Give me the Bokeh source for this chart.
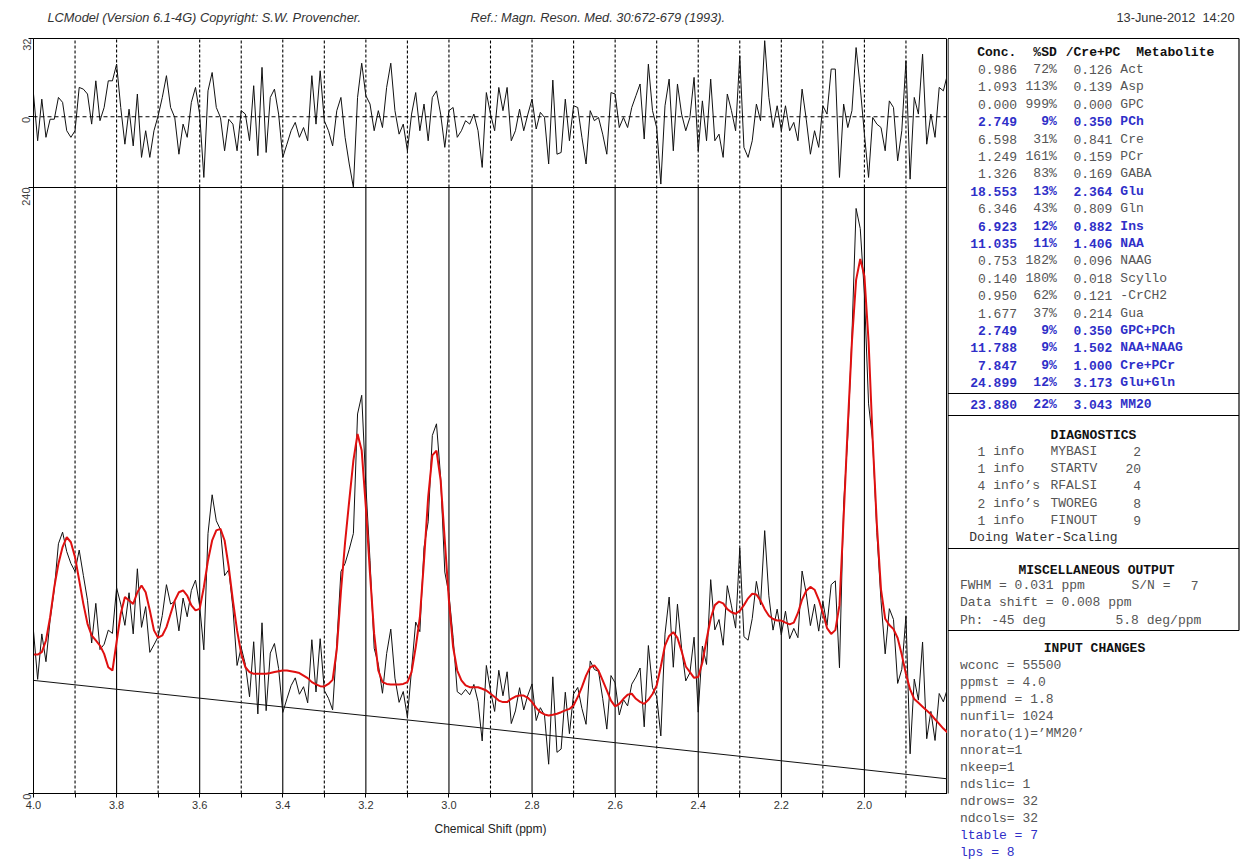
import math
import numpy as np
from bokeh.plotting import figure
from bokeh.models import Range1d, FixedTicker, Span, NumeralTickFormatter
from bokeh.layouts import row, column
from bokeh.embed import file_html
from bokeh.resources import INLINE
from bokeh.core.properties import value

# ---------------- spectrum data (ppm grid 4.00 -> 1.80, step 0.01) ----------------
PPM_START, PPM_END = 4.0, 1.8

fit = [
    55.0, 55.0, 56.0, 60.6, 69.8, 81.7, 91.0, 97.6, 101.5, 99.5,
    93.6, 84.4, 75.1, 67.2, 62.6, 60.6, 58.6, 55.3, 50.0, 48.7,
    60.0, 71.2, 77.8, 76.4, 75.1, 79.7, 82.4, 79.7, 72.5, 64.6,
    61.7, 62.6, 65.9, 71.2, 76.4, 79.7, 80.4, 78.4, 74.5, 72.5,
    73.1, 81.7, 92.3, 100.2, 104.2, 104.8, 100.2, 89.6, 76.4, 64.6,
    55.3, 50.0, 48.1, 47.4, 47.4, 47.4, 47.4, 47.7, 48.1, 48.4,
    48.7, 48.7, 48.4, 48.1, 47.7, 46.7, 45.7, 44.1, 43.2, 42.5,
    42.4, 43.4, 45.0, 57.0, 80.0, 99.5, 116.0, 131.9, 142.4, 135.8,
    113.4, 87.0, 63.2, 48.7, 44.1, 43.4, 43.2, 43.2, 43.2, 43.4,
    44.1, 48.1, 58.0, 69.8, 92.3, 117.4, 133.9, 135.8, 124.0, 100.2,
    76.4, 58.0, 48.7, 44.8, 42.8, 42.1, 42.1, 42.1, 41.5, 40.8,
    39.5, 38.2, 36.8, 36.2, 36.2, 37.5, 38.4, 38.8, 38.8, 37.9,
    36.2, 33.9, 32.2, 31.3, 30.9, 31.2, 31.6, 32.2, 32.9, 33.5,
    34.9, 38.2, 42.1, 46.7, 50.0, 50.7, 48.7, 44.8, 40.8, 36.8,
    34.5, 35.5, 37.5, 39.1, 39.5, 37.5, 36.3, 35.5, 37.1, 39.4,
    42.8, 50.3, 58.6, 62.4, 63.9, 61.6, 56.4, 50.3, 48.1, 45.8,
    46.1, 51.9, 60.9, 69.3, 74.6, 76.0, 75.3, 73.0, 71.8, 71.2,
    72.3, 74.6, 77.3, 79.1, 78.8, 76.4, 73.0, 70.4, 69.1, 68.5,
    68.5, 67.7, 67.0, 67.7, 71.5, 76.8, 80.3, 81.8, 80.7, 76.8,
    71.5, 65.5, 63.2, 64.7, 74.6, 109.4, 145.7, 179.1, 203.4, 211.7,
    204.9, 179.1, 139.7, 106.4, 80.7, 69.2, 66.7, 65.1, 61.6, 54.9,
    47.3, 41.2, 37.4, 35.9, 34.4, 32.9, 31.4, 29.4, 27.6, 25.7,
    24.2,
]

residual = [
    9.3, -9.8, 7.2, -8.4, -1.0, -1.0, 7.9, 5.9, -5.7, -8.4,
    -5.7, 12.0, 11.3, 9.3, -3.0, 14.7, -1.6, 3.8, 14.7, 14.7,
    21.5, 3.8, -11.2, 3.1, -11.9, 9.3, -16.6, -5.7, -16.6, -5.7,
    0.4, 7.9, 16.8, 3.8, -0.3, -15.3, -3.0, -8.4, 5.9, 12.0,
    1.1, -24.8, 10.6, 18.1, 3.8, -0.3, -13.9, -1.0, -3.0, -13.9,
    2.5, 1.1, -9.8, 12.7, -15.9, 20.2, -14.6, 7.9, 11.3, 1.1,
    -16.6, -11.2, -5.7, -2.3, -8.4, -4.4, -9.8, 16.8, -3.0, 18.8,
    -1.6, -5.7, -11.9, 2.5, 7.9, -8.4, -19.3, -28.9, 7.9, 21.9,
    8.6, 5.2, -5.7, 2.5, -4.4, 12.0, 21.9, 2.5, -7.1, -3.0,
    -13.9, 1.1, 9.9, -5.7, 5.2, -9.8, 7.9, 10.6, 1.1, -12.5,
    2.5, 3.8, -8.4, -5.7, -1.6, -3.0, 1.1, -5.7, -20.7, 9.9,
    1.1, -5.7, 12.0, 2.5, 12.0, -9.8, -5.7, 3.1, -5.7, 1.1,
    7.2, -5.0, 1.8, -0.3, -19.3, 15.0, -15.3, -14.6, 7.2, -9.8,
    4.5, 3.8, -8.4, -19.3, 2.5, -1.6, -0.3, -7.1, -15.3, 9.9,
    9.3, -4.4, -0.3, -4.4, 3.8, 8.6, 13.4, -9.1, 21.5, 2.5,
    -4.4, -27.5, 4.5, 15.4, -13.9, 13.4, 1.1, -5.7, -0.3, 16.1,
    -13.9, 6.5, -9.8, 15.4, -9.8, -7.1, -16.6, 9.3, 2.5, -5.7,
    24.9, -12.5, -16.6, -9.8, 5.2, -1.6, 31.1, 7.9, -4.4, 4.5,
    -5.7, 4.5, -5.7, -2.3, -9.8, 11.3, -1.0, -15.3, -5.7, -12.5,
    4.5, 1.1, 19.5, 19.5, -24.8, 5.2, -4.4, 2.5, 28.3, 12.0,
    -7.1, -24.8, -0.3, -3.0, -4.4, -13.9, 6.5, 3.8, -18.0, -5.7,
    22.9, -25.5, 7.9, 1.1, 25.6, -11.2, 1.1, -8.4, 12.0, 10.6,
    17.4,
]

baseline_ppm = [4.0, 3.5, 3.0, 2.5, 2.0, 1.8]
baseline = [44.8, 36.0, 27.4, 18.3, 9.4, 5.8]

major_ticks = [4.0, 3.8, 3.6, 3.4, 3.2, 3.0, 2.8, 2.6, 2.4, 2.2, 2.0]
minor_ticks = [3.9, 3.7, 3.5, 3.3, 3.1, 2.9, 2.7, 2.5, 2.3, 2.1, 1.9]

# ---------------- results table ----------------
metabolites = ["Act", "Asp", "GPC", "PCh", "Cre", "PCr", "GABA", "Glu", "Gln", "Ins",
               "NAA", "NAAG", "Scyllo", "-CrCH2", "Gua", "GPC+PCh", "NAA+NAAG",
               "Cre+PCr", "Glu+Gln"]
conc = [0.986, 1.093, 0.000, 2.749, 6.598, 1.249, 1.326, 18.553, 6.346, 6.923,
        11.035, 0.753, 0.140, 0.950, 1.677, 2.749, 11.788, 7.847, 24.899]
sd_pct = [72, 113, 999, 9, 31, 161, 83, 13, 43, 12, 11, 182, 180, 62, 37, 9, 9, 9, 12]
ratio = [0.126, 0.139, 0.000, 0.350, 0.841, 0.159, 0.169, 2.364, 0.809, 0.882,
         1.406, 0.096, 0.018, 0.121, 0.214, 0.350, 1.502, 1.000, 3.173]
highlighted = ["PCh", "Glu", "Ins", "NAA", "GPC+PCh", "NAA+NAAG", "Cre+PCr", "Glu+Gln"]
mm_name, mm_conc, mm_sd, mm_ratio = "MM20", 23.880, 22, 3.043

diag_count = [1, 1, 4, 2, 1]
diag_word = ["info", "info", "info\u2019s", "info\u2019s", "info"]
diag_code = ["MYBASI", "STARTV", "RFALSI", "TWOREG", "FINOUT"]
diag_num = [2, 20, 4, 8, 9]
diag_note = "Doing Water-Scaling"

misc_fwhm, misc_sn, misc_shift, misc_ph0, misc_ph1 = 0.031, 7, 0.008, -45, 5.8

input_changes = ["wconc = 55500", "ppmst = 4.0", "ppmend = 1.8", "nunfil= 1024",
                 "norato(1)=\u2019MM20\u2019", "nnorat=1", "nkeep=1", "ndslic= 1",
                 "ndrows= 32", "ndcols= 32", "ltable = 7", "lps = 8"]
input_blue = ["ltable = 7", "lps = 8"]

header_left = "LCModel (Version 6.1-4G) Copyright: S.W. Provencher."
header_ref = "Ref.: Magn. Reson. Med. 30:672-679 (1993)."
header_date = "13-June-2012\u00a0\u00a014:20"

# ---------------- derived series ----------------
ppm = np.round(np.linspace(PPM_START, PPM_END, len(fit)), 3)
data = np.array(fit) + np.array(residual)   # LCModel residual = data - fit

# ---------------- styles ----------------
SANS = "Liberation Sans"
MONO = "Liberation Mono"
GRAY = "#555555"
BLUE = "#2f2fc8"


def no_align(fig):
    try:
        fig.frame_align = False
    except Exception:
        pass


# ---------------- header strip ----------------
hd = figure(width=1240, height=37, x_range=Range1d(0, 1240), y_range=Range1d(37, 0),
            output_backend="svg", toolbar_location=None, title=None,
            x_axis_type=None, y_axis_type=None, min_border=0)
hd.outline_line_color = None
no_align(hd)
hd.text(x=[47, 470], y=[17, 17], text=[header_left, header_ref], text_align="left",
        text_baseline="middle", text_font=value(SANS), text_font_size="12.8px",
        text_font_style="italic", text_color="#333333")
hd.text(x=[1234], y=[17], text=[header_date], text_align="right", text_baseline="middle",
        text_font=value(SANS), text_font_size="12.8px", text_color="#333333")

# ---------------- main spectrum plot ----------------
Y_SPLIT = 240      # top of the spectrum panel
RES_ZERO = 268     # position of the residual zero on the spectrum scale
Y_TOP = 299
RES_TOP = 32
res_bottom = -RES_ZERO * RES_TOP / (Y_TOP - RES_ZERO)

p = figure(width=947, height=828, x_range=Range1d(PPM_START, PPM_END),
           y_range=Range1d(0, Y_TOP), output_backend="svg", toolbar_location=None,
           title=None, min_border_left=33, min_border_right=0, min_border_top=1,
           min_border_bottom=72)
no_align(p)
p.extra_y_ranges = {"res": Range1d(res_bottom, RES_TOP)}
p.xgrid.visible = False
p.ygrid.visible = False
p.outline_line_color = "black"
p.outline_line_width = 1
p.background_fill_color = "white"

inner_major = [t for t in major_ticks if t != PPM_START]
# vertical grid: solid (0.2 ppm) in spectrum panel, dashed everywhere else
p.segment(x0=inner_major, y0=0, x1=inner_major, y1=Y_SPLIT, line_color="black", line_width=1.1)
p.segment(x0=inner_major, y0=Y_SPLIT, x1=inner_major, y1=Y_TOP, line_color="black",
          line_width=1.1, line_dash="3 2")
p.segment(x0=minor_ticks, y0=0, x1=minor_ticks, y1=Y_TOP, line_color="black",
          line_width=1.1, line_dash="3 2")
p.add_layout(Span(location=Y_SPLIT, dimension="width", line_color="black", line_width=1.2))
p.add_layout(Span(location=0, dimension="width", y_range_name="res", line_color="black",
                  line_width=1.1, line_dash="4 3"))

p.line(ppm, residual, y_range_name="res", line_color="#111111", line_width=1)
p.line(baseline_ppm, baseline, line_color="#111111", line_width=1)
p.line(ppm, data, line_color="#111111", line_width=1)
p.line(ppm, fit, line_color="#e01010", line_width=2)

xa = p.xaxis[0]
xa.ticker = FixedTicker(ticks=major_ticks, minor_ticks=minor_ticks)
xa.formatter = NumeralTickFormatter(format="0.0")
xa.axis_label = "Chemical Shift (ppm)"
xa.axis_label_text_font = SANS
xa.axis_label_text_font_size = "12px"
xa.axis_label_text_font_style = "normal"
xa.axis_label_text_color = "#222222"
xa.axis_label_standoff = 10
xa.major_label_text_font = SANS
xa.major_label_text_font_size = "11px"
xa.major_label_text_color = "#333333"
xa.major_label_standoff = 3
xa.major_tick_in = 0
xa.major_tick_out = 4
xa.minor_tick_in = 0
xa.minor_tick_out = 4
xa.axis_line_color = "black"
xa.major_tick_line_color = "black"
xa.minor_tick_line_color = "black"

ya = p.yaxis[0]
ya.ticker = FixedTicker(ticks=[0, Y_SPLIT, RES_ZERO, Y_TOP])
ya.major_label_overrides = {RES_ZERO: "0", Y_TOP: str(RES_TOP)}
ya.major_label_orientation = math.pi / 2
ya.major_label_text_font = SANS
ya.major_label_text_font_size = "11px"
ya.major_label_text_color = "#444444"
ya.major_label_standoff = 2
ya.major_tick_in = 0
ya.major_tick_out = 5
ya.minor_tick_line_color = None
ya.axis_line_color = "black"
ya.major_tick_line_color = "black"

# ---------------- right-hand results panel ----------------
t = figure(width=293, height=828, x_range=Range1d(947, 1240), y_range=Range1d(865, 37),
           output_backend="svg", toolbar_location=None, title=None,
           x_axis_type=None, y_axis_type=None, min_border=0)
t.frame_width = 293
t.frame_height = 828
t.outline_line_color = None
no_align(t)

BOX_LEFT, BOX_RIGHT = 947.5, 1238.5
dividers = [38, 393, 415, 548, 630]
t.segment(x0=BOX_LEFT, y0=dividers, x1=BOX_RIGHT, y1=dividers, line_color="black", line_width=1.2)
t.segment(x0=[BOX_LEFT, BOX_RIGHT], y0=[38, 38], x1=[BOX_LEFT, BOX_RIGHT], y1=[793, 630],
          line_color="black", line_width=1.2)

W = 7.95           # monospace character pitch
X0 = 968.8         # first character column of the table
FS = "13px"


def mono(xs, ys, texts, align="left", color=GRAY, style="normal"):
    t.text(x=xs, y=ys, text=texts, text_align=align, text_baseline="middle",
           text_color=color, text_font=value(MONO), text_font_size=FS, text_font_style=style)


# table header
HY = 52
mono([X0 + W], [HY], ["Conc."], color="#111111", style="bold")
mono([X0 + 11 * W], [HY], ["%SD"], align="right", color="#111111", style="bold")
mono([X0 + 19 * W], [HY], ["/Cre+PC"], align="right", color="#111111", style="bold")
mono([X0 + 21 * W], [HY], ["Metabolite"], color="#111111", style="bold")

ROW0, ROWH = 69, 17.4
rows_y = [ROW0 + i * ROWH for i in range(len(metabolites))]
cols = [BLUE if m in highlighted else GRAY for m in metabolites]
styles = ["bold" if m in highlighted else "normal" for m in metabolites]
mono([X0 + 6 * W] * len(conc), rows_y, [f"{c:.3f}" for c in conc], "right", cols, styles)
mono([X0 + 11 * W] * len(conc), rows_y, [f"{s}%" for s in sd_pct], "right", cols, styles)
mono([X0 + 18 * W] * len(conc), rows_y, [f"{r:.3f}" for r in ratio], "right", cols, styles)
mono([X0 + 19 * W] * len(conc), rows_y, metabolites, "left", cols, styles)

MMY = 404
mono([X0 + 6 * W], [MMY], [f"{mm_conc:.3f}"], "right", BLUE, "bold")
mono([X0 + 11 * W], [MMY], [f"{mm_sd}%"], "right", BLUE, "bold")
mono([X0 + 18 * W], [MMY], [f"{mm_ratio:.3f}"], "right", BLUE, "bold")
mono([X0 + 19 * W], [MMY], [mm_name], "left", BLUE, "bold")

# diagnostics
mono([1093], [435], ["DIAGNOSTICS"], "center", "#111111", "bold")
dy = [451 + i * 17.2 for i in range(len(diag_code))]
n = len(diag_code)
mono([X0 + 2 * W] * n, dy, [str(c) for c in diag_count], "right")
mono([X0 + 3 * W] * n, dy, diag_word, "left")
mono([X0 + 10.2 * W] * n, dy, diag_code, "left")
mono([X0 + 21.6 * W] * n, dy, [str(v) for v in diag_num], "right")
mono([X0], [537], [diag_note], "left", "#333333")

# miscellaneous output
MX = 959.5
mono([1096], [570], ["MISCELLANEOUS OUTPUT"], "center", "#111111", "bold")
mono([MX], [585], [f"FWHM = {misc_fwhm:.3f} ppm"])
mono([1131], [585], ["S/N ="])
mono([1198], [585], [str(misc_sn)], "right")
mono([MX], [602], [f"Data shift = {misc_shift:.3f} ppm"])
mono([MX], [620], [f"Ph: {misc_ph0} deg"])
mono([1115], [620], [f"{misc_ph1} deg/ppm"])

# input changes
mono([1094], [648], ["INPUT CHANGES"], "center", "#111111", "bold")
iy = [665 + i * 17.0 for i in range(len(input_changes))]
icol = [BLUE if s in input_blue else GRAY for s in input_changes]
mono([MX] * len(input_changes), iy, input_changes, "left", icol)

layout = column(hd, row(p, t))
open("out.html", "w").write(file_html(layout, INLINE))
